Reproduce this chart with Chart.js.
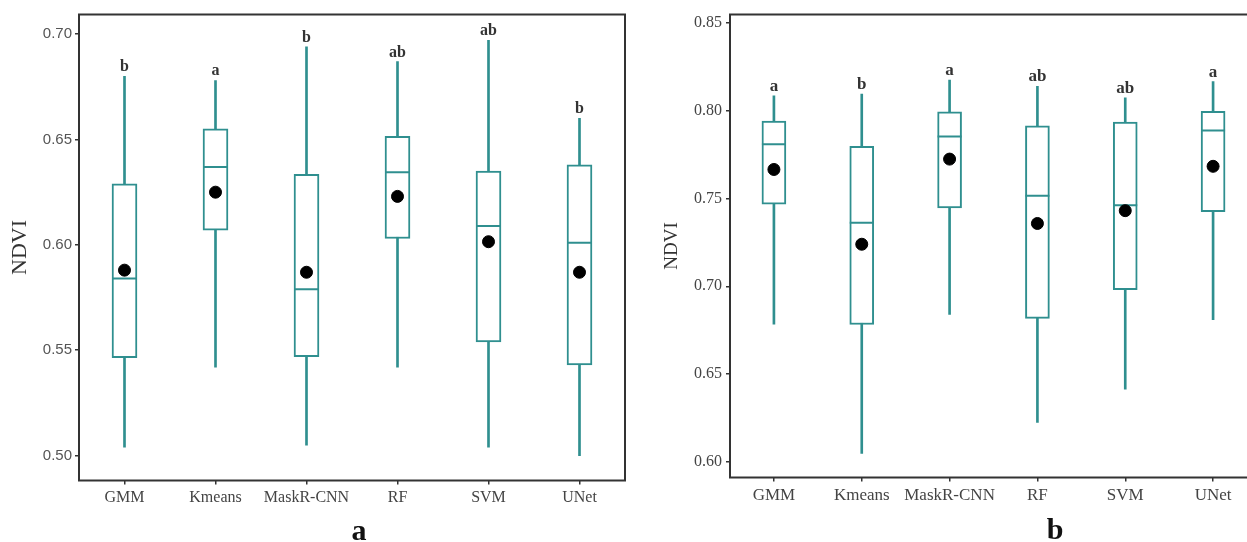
<!DOCTYPE html>
<html>
<head>
<meta charset="utf-8">
<script src="https://cdn.jsdelivr.net/npm/chart.js@4.4.1/dist/chart.umd.min.js"></script>
<style>
    html, body { margin: 0; padding: 0; background: #fff; overflow: hidden; width: 1247px; height: 542px; }
    .panel { position: absolute; top: 0; height: 542px; }
    .caption { position: absolute; font: bold 30px "Liberation Serif", serif; line-height: 30px; color: #111; transform: translateX(-50%); }
</style>
</head>
<body>
<div class="panel" style="left:0;width:640px"><canvas id="chartA"></canvas></div>
<div class="panel" style="left:640px;width:640px"><canvas id="chartB"></canvas></div>
<div class="caption" style="left:359px;top:515px">a</div>
<div class="caption" style="left:1055px;top:514px">b</div>
<script>
const categories = ['GMM', 'Kmeans', 'MaskR-CNN', 'RF', 'SVM', 'UNet'];

// panel a
const aMin = [0.504, 0.542, 0.505, 0.542, 0.504, 0.500];
const aQ1 = [0.5465, 0.607, 0.547, 0.603, 0.554, 0.543];
const aMedian = [0.584, 0.637, 0.579, 0.6345, 0.609, 0.601];
const aQ3 = [0.629, 0.655, 0.6335, 0.6515, 0.635, 0.638];
const aMax = [0.680, 0.678, 0.694, 0.687, 0.697, 0.660];
const aMean = [0.588, 0.625, 0.587, 0.623, 0.6015, 0.587];
const aLetters = ['b', 'a', 'b', 'ab', 'ab', 'b'];

// panel b
const bMin = [0.6785, 0.605, 0.684, 0.6226, 0.6415, 0.681];
const bQ1 = [0.7467, 0.6783, 0.7446, 0.6818, 0.6981, 0.7424];
const bMedian = [0.7808, 0.7361, 0.7851, 0.7514, 0.7461, 0.7886];
const bQ3 = [0.7939, 0.7796, 0.7992, 0.7912, 0.7933, 0.7995];
const bMax = [0.8083, 0.8093, 0.8172, 0.8136, 0.8071, 0.8164];
const bMean = [0.7664, 0.7239, 0.7723, 0.7357, 0.743, 0.7682];
const bLetters = ['a', 'b', 'a', 'ab', 'ab', 'a'];

const teal = '#2f8f8f';
const dark = '#333';

// frame round the plot area
const framePlugin = {
    id: 'frame',
    afterDraw(chart) {
        const {ctx, chartArea: a} = chart;
        ctx.save();
        ctx.strokeStyle = dark;
        ctx.lineWidth = 2;
        ctx.strokeRect(a.left, a.top, a.right - a.left, a.bottom - a.top);
        ctx.restore();
    }
};

// significance letters above the whiskers
const lettersPlugin = {
    id: 'letters',
    afterDatasetsDraw(chart, args, opts) {
        const ctx = chart.ctx;
        const xs = chart.scales.x, ys = chart.scales.y;
        ctx.save();
        ctx.fillStyle = dark;
        ctx.font = 'bold ' + opts.size + 'px "Liberation Serif", serif';
        ctx.textAlign = 'center';
        ctx.textBaseline = 'alphabetic';
        opts.letters.forEach((l, i) => {
            ctx.fillText(l, xs.getPixelForValue(i), ys.getPixelForValue(opts.tops[i]) - 5);
        });
        ctx.restore();
    }
};

function makeBoxChart(id, s) {
    return new Chart(document.getElementById(id), {
        type: 'bar',
        data: {
            labels: categories,
            datasets: [
                {
                    type: 'line',
                    data: s.mean,
                    showLine: false,
                    pointStyle: 'circle',
                    pointRadius: 6,
                    pointBackgroundColor: '#000',
                    pointBorderColor: '#000',
                    order: 0
                },
                {
                    type: 'line',
                    data: s.median,
                    showLine: false,
                    pointStyle: 'line',
                    pointRadius: s.box / 2,
                    pointBorderWidth: 2,
                    pointBorderColor: teal,
                    order: 1
                },
                {
                    data: categories.map((c, i) => [s.q1[i], s.q3[i]]),
                    backgroundColor: '#fff',
                    borderColor: teal,
                    borderWidth: 2,
                    borderSkipped: false,
                    barThickness: s.box,
                    grouped: false,
                    order: 2
                },
                {
                    data: categories.map((c, i) => [s.min[i], s.max[i]]),
                    backgroundColor: teal,
                    borderWidth: 0,
                    barThickness: 2,
                    grouped: false,
                    order: 3
                }
            ]
        },
        options: {
            responsive: true,
            maintainAspectRatio: false,
            animation: false,
            layout: { padding: { top: s.padTop, right: s.padRight, left: 0, bottom: 0 } },
            plugins: {
                legend: { display: false },
                tooltip: { enabled: false },
                letters: { letters: s.letters, tops: s.max, size: s.letterSize }
            },
            scales: {
                x: {
                    offset: true,
                    afterFit: (scale) => { scale.height = s.xHeight; },
                    border: { display: false },
                    grid: { offset: false, drawOnChartArea: false, drawTicks: true, tickLength: 4, color: dark, lineWidth: 1.5 },
                    ticks: { color: '#444', padding: 4, autoSkip: false, maxRotation: 0, font: { family: '"Liberation Serif", serif', size: s.xFont } }
                },
                y: {
                    min: s.yMin,
                    max: s.yMax,
                    afterFit: (scale) => { scale.width = s.yWidth; },
                    border: { display: false },
                    grid: { drawOnChartArea: false, drawTicks: true, tickLength: 4, color: dark, lineWidth: 1.5 },
                    ticks: {
                        stepSize: 0.05,
                        includeBounds: false,
                        padding: s.yPad,
                        color: s.yTickColor,
                        font: { family: s.yTickFamily, size: s.yFont },
                        callback: (v) => v.toFixed(2)
                    },
                    title: {
                        display: true,
                        text: 'NDVI',
                        color: dark,
                        padding: { top: s.titlePad, bottom: 0 },
                        font: { family: '"Liberation Serif", serif', size: s.titleSize }
                    }
                }
            }
        },
        plugins: [framePlugin, lettersPlugin]
    });
}

makeBoxChart('chartA', {
    min: aMin, q1: aQ1, median: aMedian, q3: aQ3, max: aMax, mean: aMean, letters: aLetters,
    box: 25, yMin: 0.4882, yMax: 0.7093,
    padTop: 14, padRight: 15, xHeight: 61.5, yWidth: 79, yPad: 3,
    xFont: 16, yFont: 15, yTickColor: '#555', yTickFamily: '"Liberation Sans", sans-serif',
    titleSize: 22, titlePad: 7, letterSize: 16
});

makeBoxChart('chartB', {
    min: bMin, q1: bQ1, median: bMedian, q3: bQ3, max: bMax, mean: bMean, letters: bLetters,
    box: 24, yMin: 0.5913, yMax: 0.8545,
    padTop: 14.5, padRight: 23, xHeight: 64.5, yWidth: 90, yPad: 4,
    xFont: 17, yFont: 16, yTickColor: '#444', yTickFamily: '"Liberation Serif", serif',
    titleSize: 19, titlePad: 21, letterSize: 17
});
</script>
</body>
</html>
